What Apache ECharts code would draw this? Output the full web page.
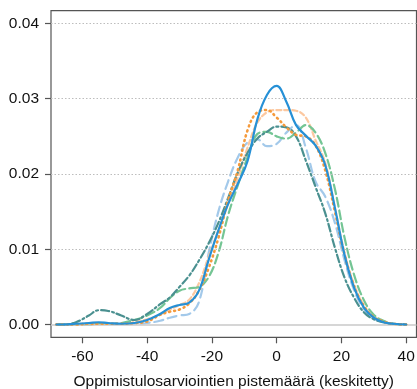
<!DOCTYPE html>
<html>
<head>
<meta charset="utf-8">
<script src="https://cdn.jsdelivr.net/npm/echarts@6/dist/echarts.min.js"></script>
<style>html,body{margin:0;padding:0;background:#fff}#c{width:417px;height:389px}</style>
</head>
<body>
<div id="c"></div>
<script>
const xs = [-68,-66,-62,-58,-55,-52,-48,-44,-40,-36,-33,-30,-27,-24,-21,-18,-15,-12,-9,-6,-3,0,3,6,9,12,15,18,21,24,27,30,33,36,40];
const blueSolid = [0,0,0.0001,0.0002,0.0003,0.0002,0.0001,0.0002,0.0006,0.0014,0.0022,0.0026,0.0029,0.0045,0.0086,0.0125,0.0160,0.0187,0.0217,0.0272,0.0305,0.0317,0.0296,0.0265,0.0251,0.0238,0.0212,0.0155,0.0092,0.0048,0.0022,0.0009,0.0003,0.0001,0];
const orangeDotted = [0,0,0,0.0001,0.0001,0.0001,0.0001,0.0002,0.0004,0.0013,0.0017,0.0020,0.0028,0.0045,0.0075,0.0115,0.0165,0.0205,0.0258,0.0282,0.0285,0.0275,0.0262,0.0252,0.0250,0.0238,0.0205,0.0150,0.0092,0.0050,0.0024,0.0010,0.0004,0.0001,0];
const lightOrangeDashed = [0,0,0,0,0.0001,0.0001,0.0001,0.0003,0.0007,0.0013,0.0020,0.0026,0.0033,0.0055,0.0090,0.0125,0.0160,0.0195,0.0235,0.0268,0.0282,0.0285,0.0285,0.0284,0.0275,0.0245,0.0215,0.0155,0.0095,0.0052,0.0025,0.0010,0.0004,0.0001,0];
const lightBlueDashed = [0,0,0,0,0.0001,0.0001,0.0001,0.0001,0.0002,0.0005,0.0009,0.0012,0.0014,0.0030,0.0095,0.0150,0.0190,0.0222,0.0242,0.0246,0.0237,0.0240,0.0255,0.0265,0.0235,0.0190,0.0170,0.0135,0.0085,0.0045,0.0020,0.0008,0.0003,0.0001,0];
const greenDashed = [0,0,0,0,0.0001,0.0001,0.0002,0.0006,0.0012,0.0022,0.0035,0.0045,0.0048,0.0050,0.0063,0.0095,0.0145,0.0185,0.0222,0.0253,0.0256,0.0250,0.0247,0.0255,0.0265,0.0255,0.0228,0.0180,0.0115,0.0065,0.0032,0.0013,0.0005,0.0001,0];
const tealDashDot = [0,0,0.0003,0.0012,0.0019,0.0018,0.0012,0.0006,0.0014,0.0027,0.0036,0.0050,0.0065,0.0085,0.0108,0.0135,0.0168,0.0202,0.0228,0.0247,0.0256,0.0263,0.0262,0.0250,0.0218,0.0183,0.0148,0.0102,0.0062,0.0035,0.0016,0.0007,0.0003,0.0001,0];
const xTicks = [-60,-40,-20,0,20,40];
const yTicks = [0,0.01,0.02,0.03,0.04];
const xTitle = 'Oppimistulosarviointien pistemäärä (keskitetty)';

const pairs = arr => xs.map((x,i)=>[x,arr[i]]);
const font = 'Liberation Sans, Arial, sans-serif';
function line(name, arr, color, type, width, z){
  return {name, type:'line', data:pairs(arr), smooth:0.4, symbol:'none', z:z,
    lineStyle:{color, width, type, cap:'round'}, animation:false};
}
const chart = echarts.init(document.getElementById('c'), null, {renderer:'canvas'});
chart.setOption({
  animation:false,
  grid:{left:51, right:0.5, top:10.7, bottom:51.7, show:true, borderColor:'#555', borderWidth:1.2, containLabel:false, outerBoundsMode:'none'},
  xAxis:{type:'value', min:-69.7, max:43.2,
    axisLine:{show:false, onZero:false},
    splitLine:{show:false},
    axisTick:{show:true, inside:false, length:6, lineStyle:{color:'#555', width:1.2}, customValues:xTicks},
    axisLabel:{customValues:xTicks, margin:11, fontSize:15.5, color:'#111', fontFamily:font},
    name:xTitle, nameLocation:'middle', nameGap:36, nameTextStyle:{fontSize:15.5, color:'#111', fontFamily:font}},
  yAxis:{type:'value', min:-0.0017, max:0.0417,
    axisLine:{show:false, onZero:false},
    splitLine:{show:false},
    axisTick:{show:true, inside:false, length:6, lineStyle:{color:'#555', width:1.2}, customValues:yTicks},
    axisLabel:{customValues:yTicks, margin:12, fontSize:15.5, color:'#111', fontFamily:font, formatter:v=>v.toFixed(2)}},
  series:[
    {type:'line', data:[], silent:true, markLine:{silent:true, symbol:'none', label:{show:false}, animation:false,
      data:[
        {yAxis:0, lineStyle:{color:'#c8c8c8', type:'solid', width:1.5}},
        {yAxis:0.01, lineStyle:{color:'#bdbdbd', type:[1.5,2], width:1}},
        {yAxis:0.02, lineStyle:{color:'#bdbdbd', type:[1.5,2], width:1}},
        {yAxis:0.03, lineStyle:{color:'#bdbdbd', type:[1.5,2], width:1}},
        {yAxis:0.04, lineStyle:{color:'#bdbdbd', type:[1.5,2], width:1}}
      ]}},
    line('lightBlue', lightBlueDashed, '#a3c9ea', [9,5], 2.2, 2),
    line('lightOrange', lightOrangeDashed, '#fcc8a0', [5,3], 2.2, 3),
    line('green', greenDashed, '#74c594', [9,4], 2.2, 4),
    line('teal', tealDashDot, '#4a9090', [8,3,2,3], 2.2, 5),
    line('orange', orangeDotted, '#f59a3c', [1,4], 2.6, 6),
    line('blue', blueSolid, '#2690d6', 'solid', 2.2, 7)
  ]
});
</script>
</body>
</html>
